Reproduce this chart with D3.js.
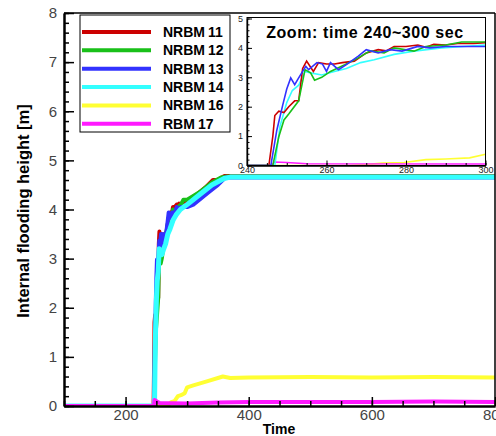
<!DOCTYPE html>
<html>
<head>
<meta charset="utf-8">
<script src="https://cdn.jsdelivr.net/npm/d3@7"></script>
<style>
  body { margin: 0; background: #fff; }
  svg text { font-family: "Liberation Sans", Arial, sans-serif; }
</style>
</head>
<body>
<div id="chart"></div>
<script>
const $ = (element) => d3.select(element);

// series values: [time, height]
const nrbm11 = [[100,0],[245.5,0],[246.5,1.0],[247,1.7],[248,1.85],[249.3,1.8],[250.5,2.0],[252,2.2],[253,2.2],[254,3.3],[255,3.55],[256.7,3.2],[258,3.5],[260,3.45],[262,3.45],[264,3.5],[267,3.55],[270,3.83],[273,3.94],[275,3.9],[277,4.05],[280,4.05],[283,4.1],[285,4.02],[287,4.12],[290,4.1],[293,4.15],[297,4.15],[300,4.18],[310,4.25],[320,4.35],[330,4.45],[342,4.6],[350,4.6],[360,4.68],[400,4.68],[500,4.68],[600,4.68],[700,4.68],[800,4.68]];
const nrbm12 = [[100,0],[246.5,0],[248,0.98],[249.3,1.55],[250.5,1.75],[253,2.2],[254.6,3.26],[256,3.15],[257,2.9],[258.8,3.0],[261,3.2],[264.6,3.43],[268,3.66],[271,3.9],[274.5,3.83],[277,4.0],[282,3.89],[285,4.05],[290,4.1],[294,4.2],[300,4.2],[320,4.35],[340,4.55],[355,4.65],[365,4.67],[400,4.67],[500,4.67],[600,4.67],[700,4.67],[800,4.67]];
const nrbm13 = [[100,0],[246,0],[247.5,1.2],[249,2.06],[250,2.6],[251,2.98],[252,2.75],[253,2.98],[254,3.2],[254.8,3.37],[255.5,3.26],[257.6,3.5],[259,3.45],[260,3.2],[261,3.5],[263,3.26],[265,3.43],[268,3.72],[270,3.94],[273,3.83],[276,3.94],[279,3.89],[283,4.05],[286,4.0],[290,4.05],[300,4.05],[310,4.1],[320,4.2],[335,4.35],[350,4.5],[362,4.65],[400,4.65],[500,4.65],[600,4.65],[700,4.65],[800,4.65]];
const nrbm14 = [[100,0],[247,0],[248.3,1.33],[250,2.14],[251.4,2.55],[253,2.73],[254.6,3.2],[256,3.15],[258.8,3.08],[262,3.2],[265,3.3],[268.6,3.5],[272,3.6],[277,3.78],[282,3.89],[289,4.0],[300,4.1],[320,4.3],[340,4.5],[360,4.63],[370,4.66],[400,4.66],[500,4.66],[600,4.66],[700,4.66],[800,4.66]];
const nrbm16 = [[100,0],[265,0],[270,0.03],[274,0.08],[279.5,0.1],[285,0.2],[290,0.22],[296,0.26],[300,0.38],[310,0.42],[332,0.5],[358,0.6],[370,0.57],[400,0.58],[500,0.59],[600,0.58],[700,0.59],[800,0.58]];
const rbm17 = [[100,0],[246,0],[247,0.12],[250,0.1],[255,0.06],[300,0.05],[350,0.07],[400,0.08],[500,0.08],[600,0.08],[700,0.09],[800,0.08]];

const seriesNames = ["NRBM11", "NRBM12", "NRBM13", "NRBM14", "NRBM16", "RBM17"];
const seriesData = [nrbm11, nrbm12, nrbm13, nrbm14, nrbm16, rbm17];
const seriesColors = ["#cc0000", "#19c019", "#3232ff", "#33ffff", "#ffff33", "#ff19ff"];

const xTicks = [200, 400, 600, 800];
const yTicks = [0, 1, 2, 3, 4, 5, 6, 7, 8];
const insetXTicks = [240, 260, 280, 300];
const insetYTicks = [0, 1, 2, 3, 4, 5];

const width = 496, height = 436;
const svg = $("#chart").append("svg").attr("width", width).attr("height", height);

// main plot
const x = d3.scaleLinear().domain([100, 800]).range([64, 495]);
const y = d3.scaleLinear().domain([0, 8]).range([406, 13]);

svg.append("clipPath").attr("id", "mainClip")
  .append("rect").attr("x", 64).attr("y", 13).attr("width", 431).attr("height", 393);

const line = d3.line().x((d) => x(d[0])).y((d) => y(d[1]));
const lines = svg.append("g").attr("clip-path", "url(#mainClip)");
seriesData.forEach((data, i) => {
  lines.append("path")
    .attr("d", line(data))
    .attr("fill", "none")
    .attr("stroke", seriesColors[i])
    .attr("stroke-width", i == 3 ? 5 : 4)
    .attr("stroke-linejoin", "round");
});

// frame
svg.append("line").attr("x1", 64).attr("x2", 495).attr("y1", 13).attr("y2", 13).attr("stroke", "#000").attr("stroke-width", 1.5);
svg.append("line").attr("x1", 495).attr("x2", 495).attr("y1", 13).attr("y2", 406).attr("stroke", "#000").attr("stroke-width", 1.5);

const styleAxis = (g, size) => {
  g.selectAll("text").attr("font-size", size).attr("fill", "#444");
  g.selectAll("line").attr("stroke", "#000").attr("stroke-width", 1.5);
  g.select(".domain").attr("stroke", "#000").attr("stroke-width", 2);
};

const yMinor = svg.append("g").attr("transform", "translate(64,0)")
  .call(d3.axisLeft(y).tickValues(d3.range(0, 8.01, 0.2)).tickSize(-5).tickFormat("").tickSizeOuter(0));
styleAxis(yMinor, 14);
const yAxis = svg.append("g").attr("transform", "translate(64,0)")
  .call(d3.axisLeft(y).tickValues(yTicks).tickSize(-10).tickPadding(7).tickSizeOuter(0));
styleAxis(yAxis, 15);

const xMinor = svg.append("g").attr("transform", "translate(0,406)")
  .call(d3.axisBottom(x).tickValues(d3.range(100, 801, 50)).tickSize(-5).tickFormat("").tickSizeOuter(0));
styleAxis(xMinor, 14);
const xAxis = svg.append("g").attr("transform", "translate(0,406)")
  .call(d3.axisBottom(x).tickValues(xTicks).tickSize(-9).tickPadding(3).tickSizeOuter(0));
styleAxis(xAxis, 15);

svg.append("text")
  .attr("transform", "translate(29,211) rotate(-90)")
  .attr("text-anchor", "middle")
  .attr("font-size", 16.5).attr("font-weight", "bold")
  .text("Internal flooding height [m]");

svg.append("text")
  .attr("x", 279).attr("y", 434)
  .attr("text-anchor", "middle")
  .attr("font-size", 14).attr("font-weight", "bold")
  .text("Time");

// legend
const legend = svg.append("g");
legend.append("rect").attr("x", 80).attr("y", 15).attr("width", 150).attr("height", 117)
  .attr("fill", "#fff").attr("stroke", "#000").attr("stroke-width", 1);
seriesNames.forEach((name, i) => {
  const ly = 32 + i * 18.35;
  legend.append("line").attr("x1", 82).attr("x2", 151).attr("y1", ly).attr("y2", ly)
    .attr("stroke", seriesColors[i]).attr("stroke-width", 4);
  const label = legend.append("text").attr("x", 163).attr("y", ly + 5)
    .attr("font-size", 14).attr("font-weight", "bold");
  label.append("tspan").text(name.slice(0, -2));
  label.append("tspan").attr("dx", 3).text(name.slice(-2));
});

// inset
const ix = d3.scaleLinear().domain([240, 300]).range([247, 485.5]);
const iy = d3.scaleLinear().domain([0, 5]).range([165.5, 18.5]);

svg.append("rect").attr("x", 232).attr("y", 15).attr("width", 258).attr("height", 159).attr("fill", "#fff");
svg.append("clipPath").attr("id", "insetClip")
  .append("rect").attr("x", 247).attr("y", 17.5).attr("width", 238.5).attr("height", 148);

const iline = d3.line().x((d) => ix(d[0])).y((d) => iy(d[1]));
const ilines = svg.append("g").attr("clip-path", "url(#insetClip)");
[4, 5, 3, 0, 1, 2].forEach((i) => {
  ilines.append("path")
    .attr("d", iline(seriesData[i]))
    .attr("fill", "none")
    .attr("stroke", seriesColors[i])
    .attr("stroke-width", 1.6);
});

svg.append("rect").attr("x", 247).attr("y", 17.5).attr("width", 238.5).attr("height", 148)
  .attr("fill", "none").attr("stroke", "#000").attr("stroke-width", 1);

const styleInset = (g) => {
  g.selectAll("text").attr("font-size", 9).attr("fill", "#222");
  g.selectAll("line").attr("stroke", "#000").attr("stroke-width", 1);
  g.select(".domain").attr("stroke", "#000").attr("stroke-width", 1.2);
};
styleInset(svg.append("g").attr("transform", "translate(247,0)")
  .call(d3.axisLeft(iy).tickValues(d3.range(0, 5.01, 0.2)).tickSize(-2.5).tickFormat("").tickSizeOuter(0)));
styleInset(svg.append("g").attr("transform", "translate(247,0)")
  .call(d3.axisLeft(iy).tickValues(insetYTicks).tickFormat(d3.format("d")).tickSize(-5).tickPadding(4).tickSizeOuter(0)));
styleInset(svg.append("g").attr("transform", "translate(0,165.5)")
  .call(d3.axisBottom(ix).tickValues(d3.range(240, 301, 5)).tickSize(-2.5).tickFormat("").tickSizeOuter(0)));
styleInset(svg.append("g").attr("transform", "translate(0,165.5)")
  .call(d3.axisBottom(ix).tickValues(insetXTicks).tickFormat(d3.format("d")).tickSize(-5).tickPadding(1).tickSizeOuter(0)));

svg.append("text")
  .attr("x", 365).attr("y", 38)
  .attr("text-anchor", "middle")
  .attr("font-size", 16).attr("font-weight", "bold")
  .attr("letter-spacing", 0.6)
  .text("Zoom: time 240~300 sec");
</script>
</body>
</html>
